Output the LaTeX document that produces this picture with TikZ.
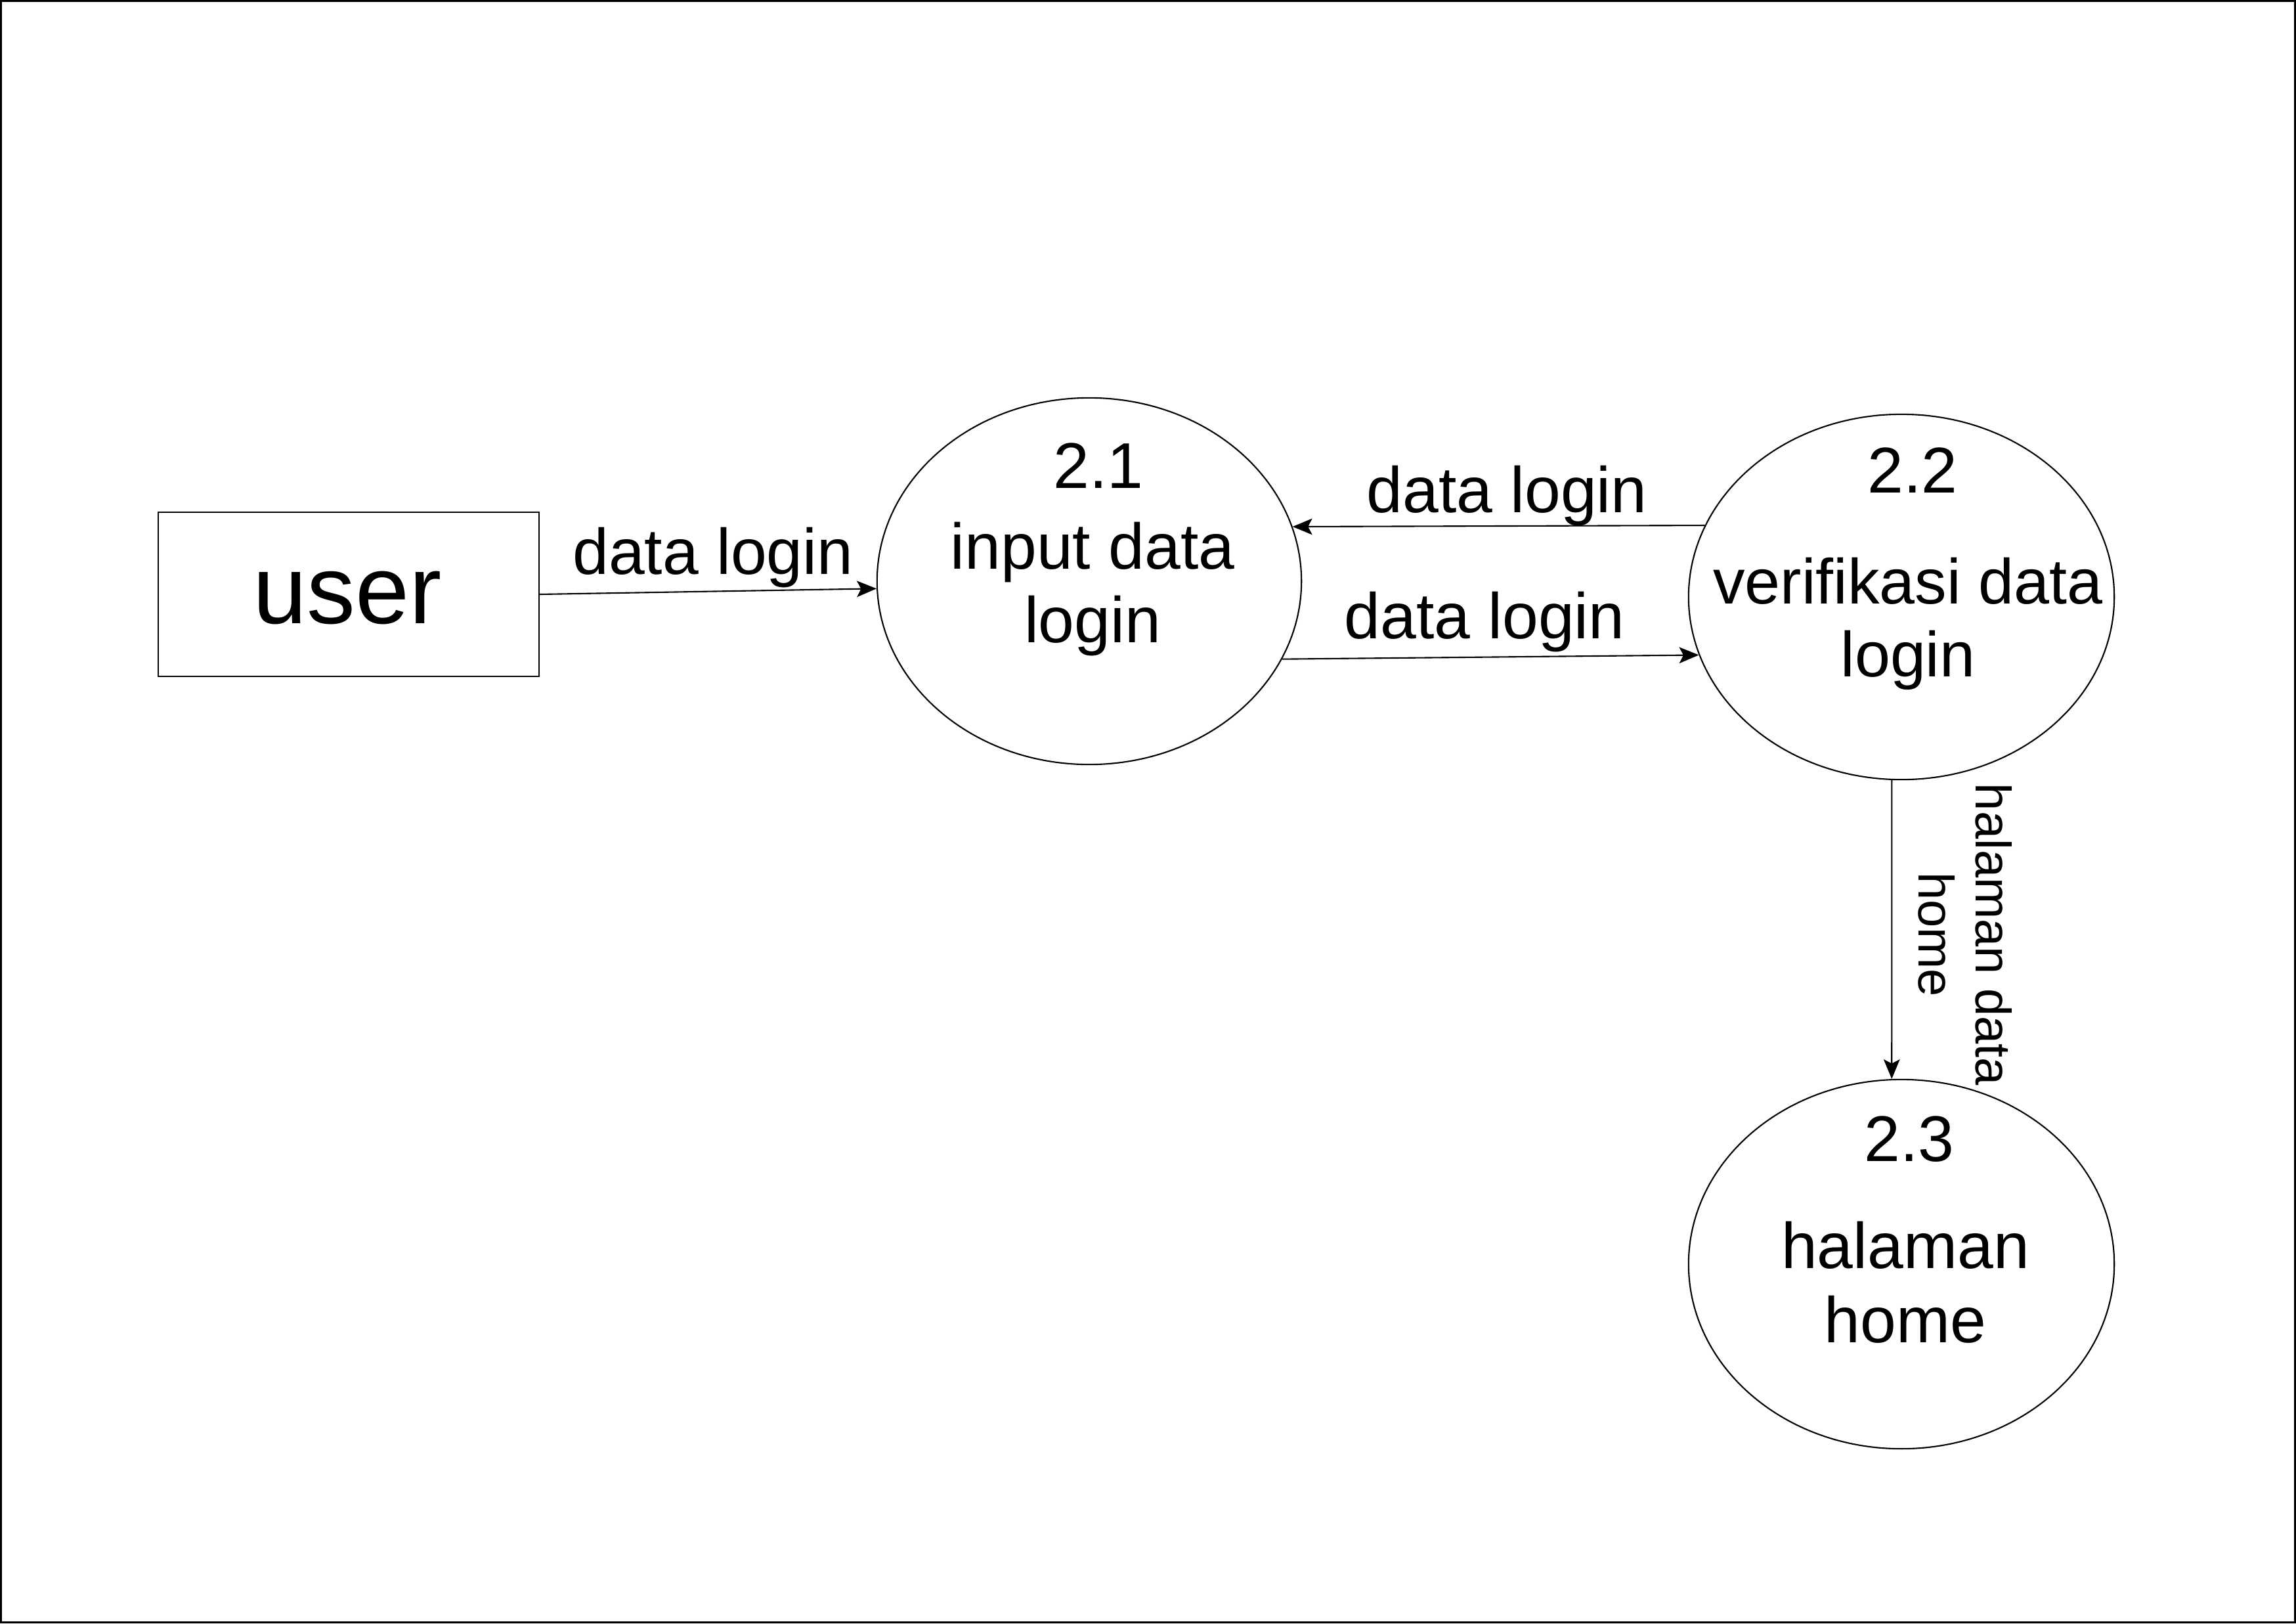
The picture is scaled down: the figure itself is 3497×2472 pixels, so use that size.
\documentclass[tikz,border=0pt]{standalone}
\usepackage{fontspec}
\setmainfont{Liberation Sans}
\usetikzlibrary{shapes.geometric,arrows.meta}
\begin{document}
\begin{tikzpicture}[x=0.01cm,y=-0.01cm,
  proc/.style={draw,ellipse,line width=0.6pt,inner sep=0pt},
  lbl/.style={inner sep=0pt,align=center,font=\fontsize{28}{32}\selectfont},
  flow/.style={-{Stealth[length=8.5pt,width=7pt,inset=1.8pt]},line width=0.6pt}]
\useasboundingbox (0,0) rectangle (3497,2472);
\draw[line width=0.9pt] (1.5,1.5) rectangle (3495.5,2470.5);
% entity
\node[draw,line width=0.6pt,minimum width=5.8cm,minimum height=2.49cm,inner sep=0pt] (user) at (531,905) {};
\node[inner sep=0pt,font=\fontsize{42}{48}\selectfont] (usert) at (529,910) {user};
% processes
\node[proc,minimum width=6.46cm,minimum height=5.58cm] (n21) at (1659,885) {};
\node[proc,minimum width=6.48cm,minimum height=5.56cm] (n22) at (2896,909) {};
\node[proc,minimum width=6.48cm,minimum height=5.62cm] (n23) at (2896,1925) {};
% process texts
\node[lbl] (t21) at (1673,709) {2.1};
\node[lbl] (t21b) at (1664,897) {input data\\login};
\node[lbl] (t22) at (2913,716) {2.2};
\node[lbl,font=\fontsize{27.6}{31.6}\selectfont] (t22b) at (2906,950) {verifikasi data\\login};
\node[lbl] (t23) at (2908,1735) {2.3};
\node[lbl] (t23b) at (2902,1953) {halaman\\home};
% flows
\draw[flow] (user.east) -- (n21.182);
\draw[flow] (n22.160) -- (n21.15);
\draw[flow] (n21.-22.5) -- (n22.196.6);
\draw[flow] (n22.267.5) -- (n23.93);
% flow labels
\node[lbl] (f1) at (1086,849) {data login};
\node[lbl] (f2) at (2295,755) {data login};
\node[lbl] (f3) at (2261,947) {data login};
\node[inner sep=0pt,align=center,rotate=-90,font=\fontsize{21.6}{24.8}\selectfont] (f4) at (2993,1423) {halaman data\\home};
\end{tikzpicture}
\end{document}
